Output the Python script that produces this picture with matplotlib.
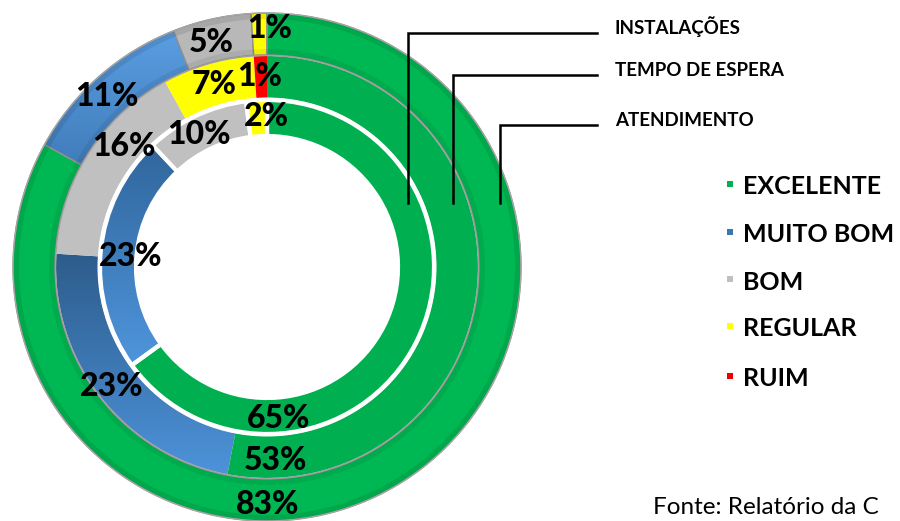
import numpy as np
import matplotlib
matplotlib.use("Agg")
import matplotlib.pyplot as plt
from matplotlib.patches import Wedge, Rectangle
from matplotlib.colors import LinearSegmentedColormap

# ---------------- data ----------------
categories = ["EXCELENTE", "MUITO BOM", "BOM", "REGULAR", "RUIM"]
ring_names = ["INSTALAÇÕES", "TEMPO DE ESPERA", "ATENDIMENTO"]
instalacoes = [65, 23, 10, 2, 0]
tempo_espera = [53, 23, 16, 7, 1]
atendimento = [83, 11, 5, 1, 0]
source_text = "Fonte: Relatório da C"

# ---------------- style ----------------
colors = ["#00B050", "#3F7FBF", "#C0C0C0", "#FFFF00", "#FF0000"]
legend_colors = ["#00B050", "#3A76B4", "#BFBFBF", "#FFFF00", "#EE0000"]
W, H = 900, 521
cx, cy = 267, H - 267          # pixel-like data coordinates
FONT = ["Lato", "DejaVu Sans"]

fig = plt.figure(figsize=(W / 100, H / 100), dpi=100)
ax = fig.add_axes([0, 0, 1, 1])


def gradient(ax, wedge, c_low, c_high):
    v = wedge.get_path().vertices
    x0, y0 = v.min(0)
    x1, y1 = v.max(0)
    cmap = LinearSegmentedColormap.from_list("g", [c_low, c_high])
    grad = np.linspace(0, 1, 256)[:, None]
    im = ax.imshow(grad, cmap=cmap, extent=(x0, x1, y0, y1), origin="lower",
                   aspect="auto", interpolation="bilinear",
                   zorder=wedge.get_zorder() - 0.2)
    im.set_clip_path(wedge)
    wedge.set_facecolor("none")


# outer ring : ATENDIMENTO
w_out, _ = ax.pie(atendimento, radius=254, center=(cx, cy), startangle=90,
                  counterclock=False, colors=colors,
                  wedgeprops=dict(width=42, edgecolor="#8F8F8F", linewidth=1.0))
# middle ring : TEMPO DE ESPERA
w_mid, _ = ax.pie(tempo_espera, radius=211, center=(cx, cy), startangle=90,
                  counterclock=False, colors=colors,
                  wedgeprops=dict(width=43, edgecolor="none", linewidth=0))
# inner ring : INSTALAÇÕES
w_in, _ = ax.pie(instalacoes, radius=167, center=(cx, cy), startangle=90,
                 counterclock=False, colors=colors,
                 wedgeprops=dict(width=36, edgecolor="white", linewidth=3.0))

# blue gradients (as in the reference)
gradient(ax, w_out[1], "#2E639C", "#5A9EE2")
gradient(ax, w_mid[1], "#4D93DA", "#2D5C8B")
gradient(ax, w_in[1], "#4F95DC", "#30669C")
w_out[0].set_facecolor("#00B853")
w_out[2].set_facecolor("#B8B8B8")

# bevel shading of the outer ring
ax.add_patch(Wedge((cx, cy), 254, 0, 360, width=6, facecolor=(0, 0, 0, 0.09),
                   edgecolor="none", zorder=3))
ax.add_patch(Wedge((cx, cy), 218, 0, 360, width=6, facecolor=(0, 0, 0, 0.07),
                   edgecolor="none", zorder=3))
ax.add_patch(Wedge((cx, cy), 254.5, 0, 360, width=1.2, facecolor="#A8A8A8",
                   edgecolor="none", zorder=4))
ax.add_patch(Wedge((cx, cy), 212.3, 0, 360, width=1.5, facecolor="#A0A0A0",
                   edgecolor="none", zorder=4))
ax.add_patch(Wedge((cx, cy), 169.5, 0, 360, width=2.8, facecolor="white",
                   edgecolor="none", zorder=4))

# value labels (placed like in the reference)
label_pos = {
    "in": [(279, 418), (131, 256), (199, 134), (266, 116)],
    "mid": [(275, 461), (112, 386), (124, 146), (214, 85), (260, 77)],
    "out": [(268, 505), (107, 96), (211, 42), (270, 28)],
}
for key, vals in (("in", instalacoes), ("mid", tempo_espera), ("out", atendimento)):
    for (px, py), v in zip(label_pos[key], vals):
        ax.text(px, H - py, f"{v}%", ha="center", va="center", fontsize=23,
                fontweight=900, family=FONT, color="black", zorder=10)

# ring callouts
call_x = [408, 453, 500]
call_y = [33, 75, 125]
text_y = [27, 71, 120]
for name, lx, ly, ty in zip(ring_names, call_x, call_y, text_y):
    ax.plot([lx, lx, 597], [H - 203, H - ly, H - ly], color="black", lw=1.8,
            solid_joinstyle="miter", zorder=11)
    ax.text(615, H - ty, name, ha="left", va="center", fontsize=13.5,
            fontweight="bold", family=FONT, color="black")

# legend
leg_y = [186, 234, 281, 328, 378]
for cat, col, ly in zip(categories, legend_colors, leg_y):
    ax.add_patch(Rectangle((727, H - ly - 1), 6, 6, facecolor=col,
                           edgecolor="none", zorder=5))
    ax.text(743, H - ly - 1, cat, ha="left", va="center", fontsize=18,
            fontweight="bold", family=FONT, color="black")

ax.text(653, H - 507, source_text, ha="left", va="center", fontsize=17.5,
        family=FONT, color="black")

ax.set_xlim(0, W)
ax.set_ylim(0, H)
ax.axis("off")
fig.savefig("out.png", dpi=100)
